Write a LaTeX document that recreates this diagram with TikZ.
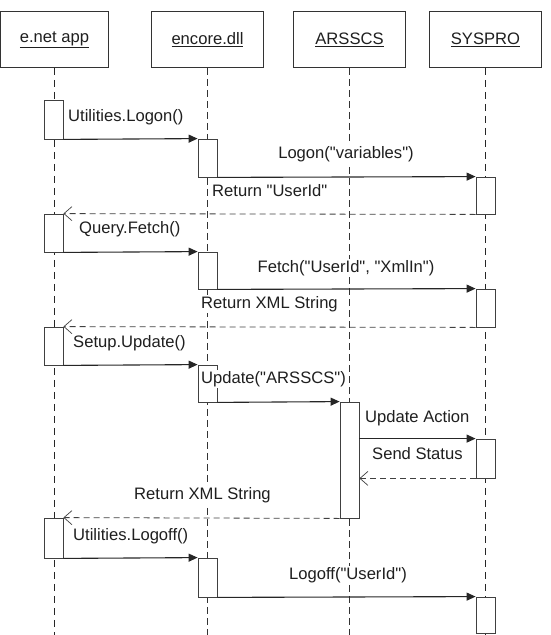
\documentclass[tikz,border=0pt]{standalone}
\usepackage{fontspec}
\setmainfont{Liberation Sans}[Ligatures=TeXOff]
\usetikzlibrary{arrows.meta}
\begin{document}
\begin{tikzpicture}[x=1pt,y=-1pt,
  every node/.style={font=\fontsize{16.6}{19}\selectfont, text=black!88},
  head/.style={draw=black!80, line width=0.9pt, fill=white, minimum width=112pt, minimum height=56pt, inner sep=0pt},
  act/.style={draw=black!75, line width=0.8pt, fill=white, minimum width=19pt, inner sep=0pt},
  lifethick/.style={draw=black!85, line width=1.3pt, dash pattern=on 7pt off 5pt},
  lifethin/.style={draw=black!80, line width=0.6pt, dash pattern=on 7pt off 4pt},
  call/.style={draw=black!85, line width=1.1pt, -{Triangle[length=9pt,width=8pt]}},
  ret/.style={draw=black!75, line width=0.8pt, dash pattern=on 6pt off 4pt, -{Straight Barb[length=8pt,width=14pt,line width=0.7pt]}},
  lbl/.style={fill=white, inner sep=1pt}
]
\useasboundingbox (0,0) rectangle (551,635);
% headers
\node[head, minimum width=108pt] (h1) at (54.5,39.5) {\underline{e.net app}};
\node[head] (h2) at (207.5,39.5) {\underline{encore.dll}};
\node[head] (h3) at (349.5,39.5) {\underline{ARSSCS}};
\node[head] (h4) at (485.5,39.5) {\underline{SYSPRO}};
% lifeline ends
\coordinate (e1) at (54.5,636);
\coordinate (e2) at (207.5,636);
\coordinate (e3) at (349.5,636);
\coordinate (e4) at (485.5,636);
\draw[lifethick] (h1.south) -- (e1);
\draw[lifethin] (h2.south) -- (e2);
\draw[lifethin] (h3.south) -- (e3);
\draw[lifethick] (h4.south) -- (e4);
% activations: e.net app
\node[act, minimum height=39pt] (a1) at (53.5,119.5) {};
\node[act, minimum height=38pt] (a2) at (53.5,233) {};
\node[act, minimum height=38pt] (a3) at (53.5,346) {};
\node[act, minimum height=40pt] (a4) at (53.5,538) {};
% encore.dll
\node[act, minimum height=38pt] (b1) at (207.5,158) {};
\node[act, minimum height=37pt] (b2) at (207.5,270.5) {};
\node[act, minimum height=37pt] (b3) at (207.5,383.5) {};
\node[act, minimum height=39pt] (b4) at (207.5,577.5) {};
% ARSSCS
\node[act, minimum height=116pt] (c1) at (349.5,460) {};
% SYSPRO
\node[act, minimum height=37pt] (d1) at (485.5,195.5) {};
\node[act, minimum height=38pt] (d2) at (485.5,308) {};
\node[act, minimum height=39pt] (d3) at (485.5,458.5) {};
\node[act, minimum height=36pt] (d4) at (485.5,615) {};
% messages
\draw[call] (a1.south east) -- (b1.north west);
\draw[call] (b1.south east) -- (d1.north west);
\draw[ret] (d1.south west) -- (a2.north east);
\draw[call] (a2.south east) -- (b2.north west);
\draw[call] (b2.south east) -- (d2.north west);
\draw[ret] (d2.south west) -- (a3.north east);
\draw[call] (a3.south east) -- (b3.north west);
\draw[call] (b3.south east) -- (c1.north west);
\draw[call] (c1.east |- d3.north west) -- (d3.north west);
\draw[ret] (d3.south west) -- (c1.east |- d3.south west);
\draw[ret] (c1.south west) -- (a4.north east);
\draw[call] (a4.south east) -- (b4.north west);
\draw[call] (b4.south east) -- (d4.north west);
% labels
\node[lbl, anchor=west] (l1) at (67,117) {Utilities.Logon()};
\node[lbl] (l2) at (346,154) {Logon("variables")};
\node[lbl, anchor=west] (l3) at (211,191) {Return "UserId"};
\node[lbl, anchor=west] (l4) at (78,229) {Query.Fetch()};
\node[lbl] (l5) at (346,268) {Fetch("UserId", "XmlIn")};
\node[lbl, anchor=west] (l6) at (200,304) {Return XML String};
\node[lbl, anchor=west] (l7) at (72,343) {Setup.Update()};
\node[lbl, anchor=west] (l8) at (200,379) {Update("ARSSCS")};
\node[lbl, anchor=west] (l9) at (364,418) {Update Action};
\node[lbl, anchor=west] (l10) at (371,454) {Send Status};
\node[lbl, anchor=west] (l11) at (133,495) {Return XML String};
\node[lbl, anchor=west] (l12) at (72,536) {Utilities.Logoff()};
\node[lbl] (l13) at (348,575) {Logoff("UserId")};
\end{tikzpicture}
\end{document}
